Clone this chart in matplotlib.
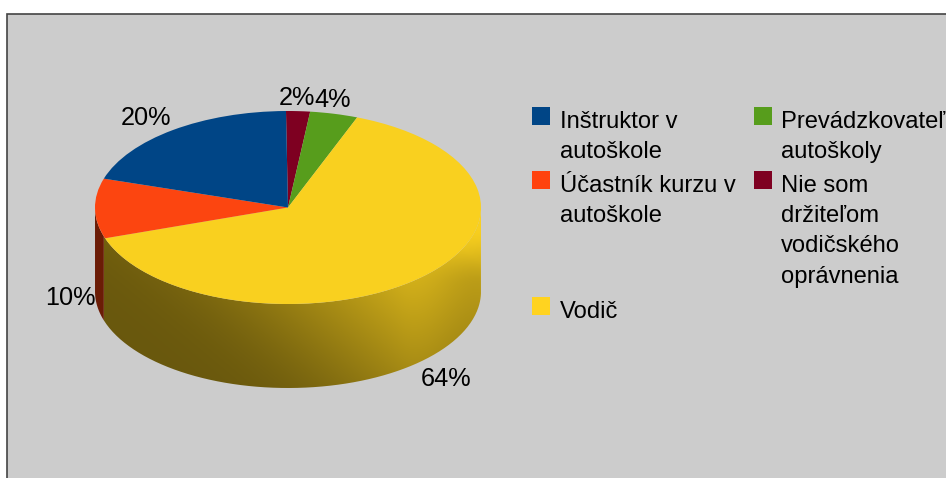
import matplotlib
matplotlib.use('Agg')
import matplotlib.pyplot as plt
import numpy as np
from matplotlib.patches import Rectangle, PathPatch
from matplotlib.path import Path

plt.rcParams['font.family'] = ['Liberation Sans', 'DejaVu Sans']

# clockwise from the top of the pie
labels = ['Nie som\ndržiteľom\nvodičského\noprávnenia', 'Prevádzkovateľ\nautoškoly', 'Vodič',
          'Účastník kurzu v\nautoškole', 'Inštruktor v\nautoškole']
values = [2, 4, 64, 10, 20]
pct_labels = ['2%', '4%', '64%', '10%', '20%']
colors = ['#7e0021', '#579d1c', '#ffd320', '#ff420e', '#004586']
top_colors = ['#7e0021', '#579d1c', '#f9d01f', '#fc4510', '#004586']
wall_orange = '#6b1c06'

W, H = 946, 478
cx, cy = 288, 207.5
rx, ry = 193, 96.5
depth = 84
start = 90.6

fig = plt.figure(figsize=(W / 100, H / 100), dpi=100, facecolor='white')

# full figure axes in pixels, for background, legend, text, walls
ax = fig.add_axes([0, 0, 1, 1])
ax.set_xlim(0, W)
ax.set_ylim(H, 0)
ax.axis('off')

ax.add_patch(Rectangle((7, 14), W, H, facecolor='#cccccc', edgecolor='#444444', linewidth=1.2))


def rim(a1, a2, n=200):
    # a1, a2 in degrees clockwise from the top of the pie
    t = np.radians(np.linspace(a1, a2, n)) - np.radians(90 - start)
    return cx + rx * np.sin(t), cy - ry * np.cos(t)


def wall_path(a1, a2):
    x, y = rim(a1, a2)
    xs = np.concatenate([x, x[::-1]])
    ys = np.concatenate([y, y[::-1] + depth])
    return Path(np.column_stack([xs, ys]))


edges = np.cumsum([0] + values) * 3.6

# yellow wall with the shaded gradient
gx, gy = np.meshgrid(np.arange(W) + 0.5, np.arange(H) + 0.5)
s = (gx - 180) * 0.75 - (gy - 305) * 0.9
soft = 25 * np.log1p(np.exp(np.clip(s, -200, 400) / 25))
b = np.clip(0.42 + 0.0022 * soft, 0.42, 1.0)
fx = np.clip((gx - 400) / 85, 0, 1)
fy = np.clip((gy - 225) / 60, 0, 1)
b *= 1 - 0.22 * fx * fx * (3 - 2 * fx) * fy * fy * (3 - 2 * fy)
base = np.array(matplotlib.colors.to_rgb(top_colors[2]))
img = b[..., None] * base
im = ax.imshow(img, extent=(0, W, H, 0), aspect='auto', zorder=2, interpolation='bilinear')
yellow_wall = PathPatch(wall_path(start, edges[3]), transform=ax.transData,
                        facecolor='none', edgecolor='none')
ax.add_patch(yellow_wall)
im.set_clip_path(yellow_wall)
ax.set_xlim(0, W)
ax.set_ylim(H, 0)

# orange wall, only a sliver shows at the left
ax.add_patch(PathPatch(wall_path(edges[3], 270), facecolor=wall_orange, edgecolor='none', zorder=2))

# top face
pie_ax = fig.add_axes([0, 0, 1, 1], facecolor='none')
pie_ax.pie(values, colors=top_colors, startangle=start, counterclock=False, radius=1)
pie_ax.set_aspect('auto')
pie_ax.set_xlim(-cx / rx, (W - cx) / rx)
pie_ax.set_ylim((cy - H) / ry, cy / ry)
pie_ax.axis('off')

# text goes on its own axes above the pie
tx = fig.add_axes([0, 0, 1, 1], facecolor='none')
tx.set_xlim(0, W)
tx.set_ylim(H, 0)
tx.axis('off')

pct_pos = [(297, 98), (333, 100), (446, 379), (70, 298), (146, 118)]
for txt, (x, y) in zip(pct_labels, pct_pos):
    tx.text(x, y, txt, fontsize=18.2, ha='center', va='center', color='black')

# x of box, y of box top, in the order of the labels list
legend_pos = [(754, 171), (754, 107), (532, 297), (532, 171), (532, 107)]
for lab, col, (x, y) in zip(labels, colors, legend_pos):
    tx.add_patch(Rectangle((x, y), 18, 18, facecolor=col, edgecolor='none'))
    off = 27 if x > 700 else 28
    tx.text(x + off, y + 3.5, lab, fontsize=17.1, ha='left', va='top', color='black', linespacing=1.5)

fig.savefig('out.png', dpi=100, facecolor='white')
